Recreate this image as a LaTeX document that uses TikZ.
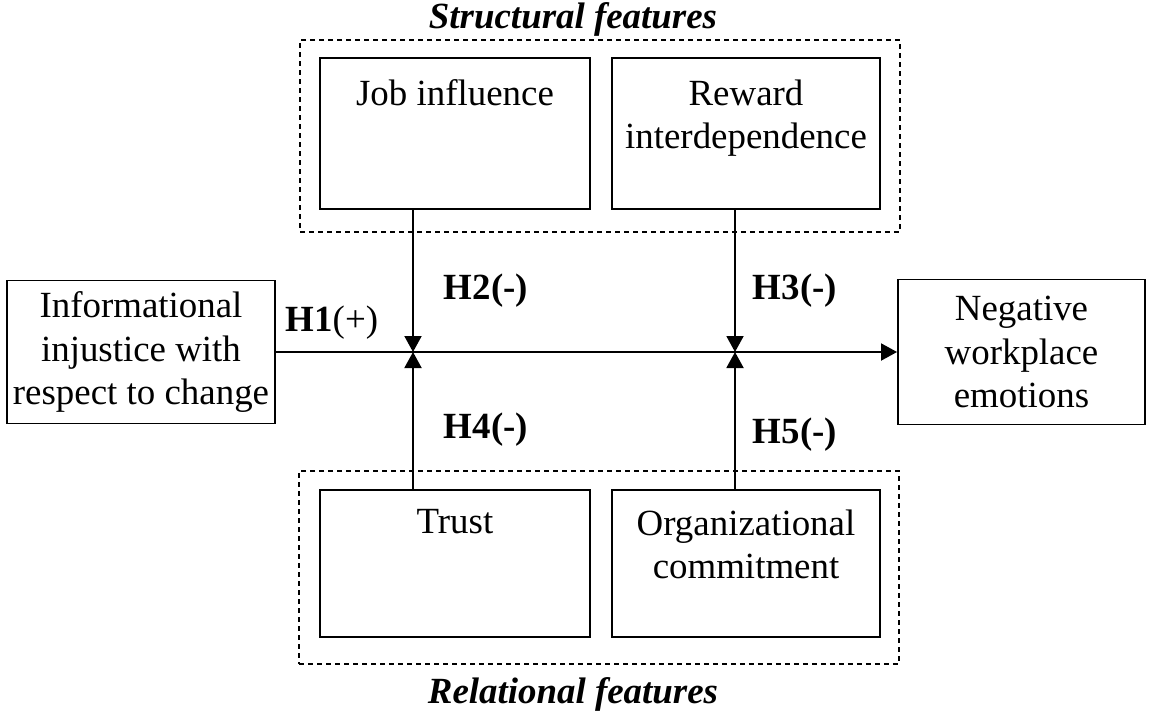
\documentclass[tikz,border=0pt]{standalone}
\usepackage{fontspec}
\setmainfont{Liberation Serif}
\usetikzlibrary{positioning, arrows.meta}

\tikzset{
  varbox/.style={draw, line width=1.1pt, align=center, inner sep=0pt},
  groupbox/.style={draw, dashed, dash pattern=on 0.1cm off 0.08cm, line width=0.9pt, minimum width=12cm},
  link/.style={line width=1.1pt, -{Triangle[width=0.34cm, length=0.32cm]}},
  hyp/.style={font=\bfseries, inner sep=0pt},
  grouptitle/.style={font=\bfseries\itshape, inner sep=0pt}
}

\begin{document}
\begin{tikzpicture}[x=0.02cm, y=-0.02cm]
  \fontsize{21}{24.5}\selectfont
  \useasboundingbox (0,0) rectangle (1154,714);

  % groups
  \node[groupbox, minimum height=3.84cm] (struct) at (600,136) {};
  \node[groupbox, minimum height=3.86cm] (relat) at (599,567.5) {};
  \node[grouptitle] (structtitle) at (573,19) {Structural features};
  \node[grouptitle] (relattitle) at (573,694) {Relational features};

  % variables
  \node[varbox, minimum width=5.36cm, minimum height=2.86cm] (inj) at (141,352) {Informational\\injustice with\\respect to change};
  \node[varbox, minimum width=4.94cm, minimum height=2.9cm] (neg) at (1021.5,352) {Negative\\workplace\\emotions};
  \node[varbox, minimum width=5.4cm, minimum height=3.02cm,
        label={[anchor=north, align=center, inner sep=0pt, yshift=-0.44cm]north:Job influence}] (job) at (455,133.5) {};
  \node[varbox, minimum width=5.36cm, minimum height=3.02cm,
        label={[anchor=north, align=center, inner sep=0pt, yshift=-0.44cm]north:Reward\\interdependence}] (reward) at (746,133.5) {};
  \node[varbox, minimum width=5.4cm, minimum height=2.94cm,
        label={[anchor=north, align=center, inner sep=0pt, yshift=-0.4cm]north:Trust}] (trust) at (455,563.5) {};
  \node[varbox, minimum width=5.36cm, minimum height=2.94cm,
        label={[anchor=north, align=center, inner sep=0pt, yshift=-0.4cm]north:Organizational\\commitment}] (commit) at (746,563.5) {};

  % moderation points
  \coordinate (m1) at (413,352);
  \coordinate (m2) at (735,352);

  % paths
  \draw[link] (inj.east) -- node[hyp, pos=0.09, yshift=0.58cm] (h1) {H1\textmd{(+)}} (neg.west);
  \draw[link] (job.south -| m1) -- node[hyp, pos=0.57, anchor=west, xshift=0.6cm] (h2) {H2(-)} (m1);
  \draw[link] (reward.south -| m2) -- node[hyp, pos=0.57, anchor=west, xshift=0.34cm] (h3) {H3(-)} (m2);
  \draw[link] (trust.north -| m1) -- node[hyp, pos=0.43, anchor=west, xshift=0.6cm] (h4) {H4(-)} (m1);
  \draw[link] (commit.north -| m2) -- node[hyp, pos=0.40, anchor=west, xshift=0.34cm] (h5) {H5(-)} (m2);
\end{tikzpicture}
\end{document}
